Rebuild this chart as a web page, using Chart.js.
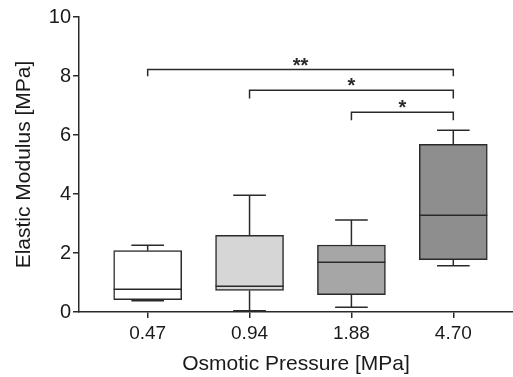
<!DOCTYPE html>
<html>
<head>
<meta charset="utf-8">
<script src="https://cdn.jsdelivr.net/npm/chart.js@4"></script>
<style>
  html, body { margin: 0; padding: 0; background: #fff; }
  #wrap { width: 513px; height: 377px; }
</style>
</head>
<body>
<div id="wrap"><canvas id="chart"></canvas></div>
<script>
// box plot values
const labels = ["0.47", "0.94", "1.88", "4.70"];
const mins = [0.38, 0.04, 0.16, 1.57];
const q1s = [0.42, 0.73, 0.59, 1.77];
const medians = [0.77, 0.87, 1.69, 3.28];
const q3s = [2.08, 2.60, 2.27, 5.68];
const maxs = [2.26, 3.96, 3.12, 6.16];
const yTicks = [0, 2, 4, 6, 8, 10];

// significance brackets: from group, to group, height, drop, label
const bracketFrom = [0, 1, 2];
const bracketTo = [3, 3, 3];
const bracketY = [8.22, 7.52, 6.77];
const bracketDrop = [7.99, 7.24, 6.5];
const bracketText = ["**", "*", "*"];

const fills = ["#ffffff", "#d6d6d6", "#a6a6a6", "#8e8e8e"];
const ink = "#2a2a2a";
const font = "'Liberation Sans', Arial, sans-serif";

const boxExtras = {
  id: "boxExtras",
  afterDatasetsDraw(chart) {
    const ctx = chart.ctx;
    const xs = chart.scales.x;
    const ys = chart.scales.y;
    const half = chart.getDatasetMeta(0).data[0].width / 2;
    const cap = half * 0.48;
    ctx.save();
    ctx.strokeStyle = ink;
    ctx.lineWidth = 1.5;
    labels.forEach((l, i) => {
      const x = xs.getPixelForValue(i);
      ctx.beginPath();
      // whiskers
      ctx.moveTo(x, ys.getPixelForValue(q3s[i]));
      ctx.lineTo(x, ys.getPixelForValue(maxs[i]));
      ctx.moveTo(x - cap, ys.getPixelForValue(maxs[i]));
      ctx.lineTo(x + cap, ys.getPixelForValue(maxs[i]));
      ctx.moveTo(x, ys.getPixelForValue(q1s[i]));
      ctx.lineTo(x, ys.getPixelForValue(mins[i]));
      ctx.moveTo(x - cap, ys.getPixelForValue(mins[i]));
      ctx.lineTo(x + cap, ys.getPixelForValue(mins[i]));
      // median
      ctx.moveTo(x - half, ys.getPixelForValue(medians[i]));
      ctx.lineTo(x + half, ys.getPixelForValue(medians[i]));
      ctx.stroke();
    });

    // brackets
    ctx.fillStyle = ink;
    ctx.font = "bold 20px " + font;
    ctx.textAlign = "center";
    ctx.textBaseline = "alphabetic";
    bracketText.forEach((t, k) => {
      const x0 = xs.getPixelForValue(bracketFrom[k]);
      const x1 = xs.getPixelForValue(bracketTo[k]);
      const y = ys.getPixelForValue(bracketY[k]);
      const yd = ys.getPixelForValue(bracketDrop[k]);
      ctx.beginPath();
      ctx.moveTo(x0, yd);
      ctx.lineTo(x0, y);
      ctx.lineTo(x1, y);
      ctx.lineTo(x1, yd);
      ctx.stroke();
      ctx.fillText(t, (x0 + x1) / 2, y + 2);
    });
    ctx.restore();
  }
};

new Chart(document.getElementById("chart"), {
  type: "bar",
  data: {
    datasets: [{
      data: labels.map((l, i) => ({ x: i, y: [q1s[i], q3s[i]] })),
      backgroundColor: fills,
      borderColor: ink,
      borderWidth: 1.5,
      borderSkipped: false,
      barThickness: 68
    }]
  },
  options: {
    responsive: true,
    maintainAspectRatio: false,
    animation: false,
    layout: { padding: { top: 17, right: 0, bottom: 0, left: 0 } },
    plugins: { legend: { display: false }, tooltip: { enabled: false } },
    scales: {
      x: {
        type: "linear",
        min: -0.674,
        max: 3.586,
        offset: false,
        afterBuildTicks: (s) => { s.ticks = labels.map((l, i) => ({ value: i })); },
        afterFit: (s) => { s.height = 65; },
        border: { color: ink, width: 1.5 },
        grid: { offset: false, drawOnChartArea: false, tickLength: 6, color: ink, lineWidth: 1.5 },
        ticks: {
          padding: 4,
          color: "#1a1a1a",
          font: { family: font, size: 19 },
          callback: (v) => labels[v]
        },
        title: {
          display: true,
          text: "Osmotic Pressure [MPa]",
          color: "#1a1a1a",
          font: { family: font, size: 21 },
          padding: { top: 0, bottom: 0 }
        }
      },
      y: {
        min: 0,
        max: 10,
        afterBuildTicks: (s) => { s.ticks = yTicks.map((v) => ({ value: v })); },
        afterFit: (s) => { s.width = 79; },
        border: { color: ink, width: 1.5 },
        grid: { drawOnChartArea: false, tickLength: 6, color: ink, lineWidth: 1.5 },
        ticks: {
          padding: 2,
          color: "#1a1a1a",
          font: { family: font, size: 20 }
        },
        title: {
          display: true,
          text: "Elastic Modulus [MPa]",
          color: "#1a1a1a",
          font: { family: font, size: 21 },
          padding: { top: 12, bottom: 0 }
        }
      }
    }
  },
  plugins: [boxExtras]
});
</script>
</body>
</html>
